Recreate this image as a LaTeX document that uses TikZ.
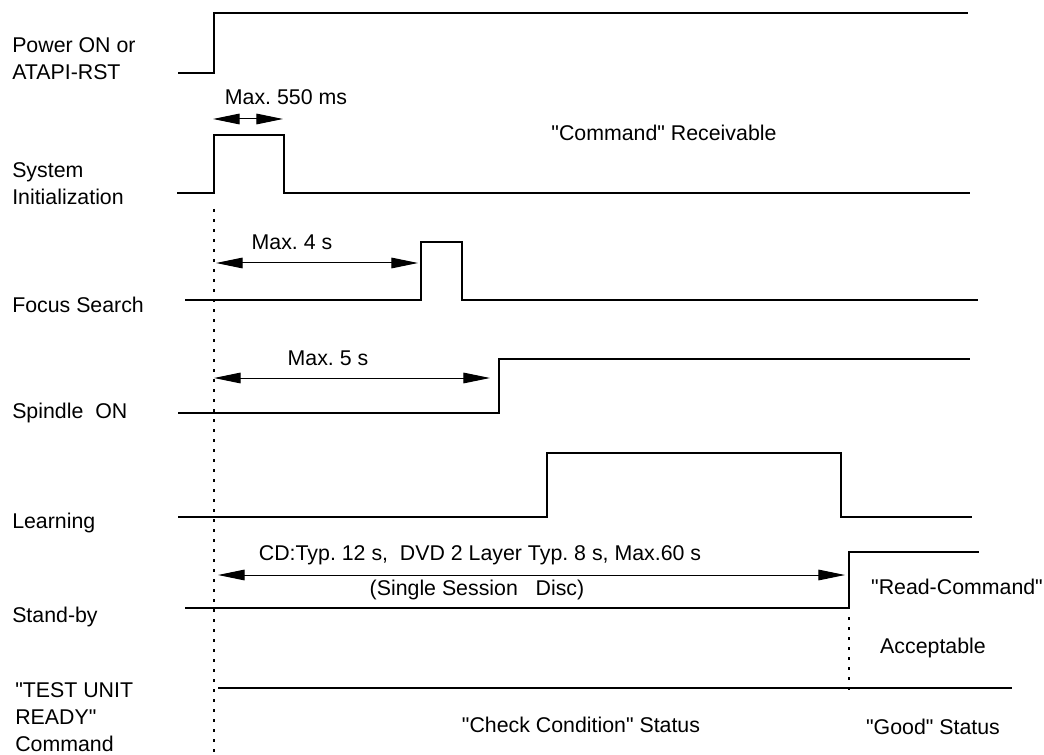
\documentclass[tikz,border=0pt]{standalone}
\usepackage{fontspec}
\setmainfont{Liberation Sans}
\usetikzlibrary{arrows.meta}
\newcommand{\dq}{\textquotedbl}
\begin{document}
\frenchspacing
\begin{tikzpicture}[x=0.75pt,y=-0.75pt,
  sig/.style={line width=1.5pt, line join=miter},
  dimarrow/.style={line width=0.75pt,
    {Triangle[length=20pt,width=8pt]}-{Triangle[length=20pt,width=8pt]}},
  marker/.style={line width=2pt, dash pattern=on 2pt off 5.5pt},
  lbl/.style={inner sep=0pt, font=\fontsize{16}{20.25}\selectfont},
  side/.style={lbl, anchor=west, align=left}]
\useasboundingbox (0,0) rectangle (1044,755);

% left labels
\node[side] (lpow) at (12,58.5) {Power ON or\\ATAPI-RST};
\node[side] (lsys) at (12,184) {System\\Initialization};
\node[side] (lfoc) at (12,305) {Focus Search};
\node[side] (lspi) at (12,413) {Spindle\ \ ON};
\node[side] (llea) at (12,523) {Learning};
\node[side] (lsta) at (12,617) {Stand-by};
\node[side] (ltur) at (15,717) {\dq TEST UNIT\\READY\dq\\Command};

% Power ON
\draw[sig] (178,73) -- (214,73) -- (214,13) -- (968,13);
% System initialization
\coordinate (s1) at (213,119);
\coordinate (s2) at (283,119);
\draw[sig] (177,193) -- (214,193) -- (214,135) -- (284,135) -- (284,193) -- (970,193);
\draw[dimarrow] (s1) -- (s2);
\node[lbl] (t550) at (286,97) {Max. 550 ms};
\node[lbl] (tcmd) at (664,133) {\dq Command\dq\ Receivable};
% Focus search
\coordinate (f1) at (216,263);
\coordinate (f2) at (418,263);
\draw[sig] (185,300) -- (421,300) -- (421,242) -- (462,242) -- (462,300) -- (978,300);
\draw[dimarrow] (f1) -- (f2);
\node[lbl] (t4) at (292,242) {Max. 4 s};
% Spindle
\coordinate (p1) at (214,378);
\coordinate (p2) at (490,378);
\draw[sig] (178,413) -- (499,413) -- (499,359) -- (970,359);
\draw[dimarrow] (p1) -- (p2);
\node[lbl] (t5) at (328,358) {Max. 5 s};
% Learning
\draw[sig] (178,517) -- (547,517) -- (547,453) -- (841,453) -- (841,517) -- (972,517);
% Stand-by
\coordinate (b1) at (218,575);
\coordinate (b2) at (845,575);
\draw[sig] (185,608) -- (849,608) -- (849,552) -- (979,552);
\draw[dimarrow] (b1) -- (b2);
\node[lbl] (tcd) at (480,555) {CD:Typ. 12 s,\ \ DVD 2 Layer Typ. 8 s, Max.60 s};
\node[lbl] (tss) at (477,590) {(Single Session\ \ \ Disc)};
\node[lbl] (trc) at (957,587) {\dq Read-Command\dq};
\node[lbl] (tacc) at (933,648) {Acceptable};
% Test unit ready
\draw[sig] (218,688) -- (1012,688);
\node[lbl] (tcc) at (581,725) {\dq Check Condition\dq\ Status};
\node[lbl] (tgs) at (933,727) {\dq Good\dq\ Status};
% dotted markers
\coordinate (d1) at (214,209);
\coordinate (d2) at (214,755);
\coordinate (d3) at (849,617);
\coordinate (d4) at (849,693);
\draw[marker] (d1) -- (d2);
\draw[marker] (d3) -- (d4);
\end{tikzpicture}
\end{document}
